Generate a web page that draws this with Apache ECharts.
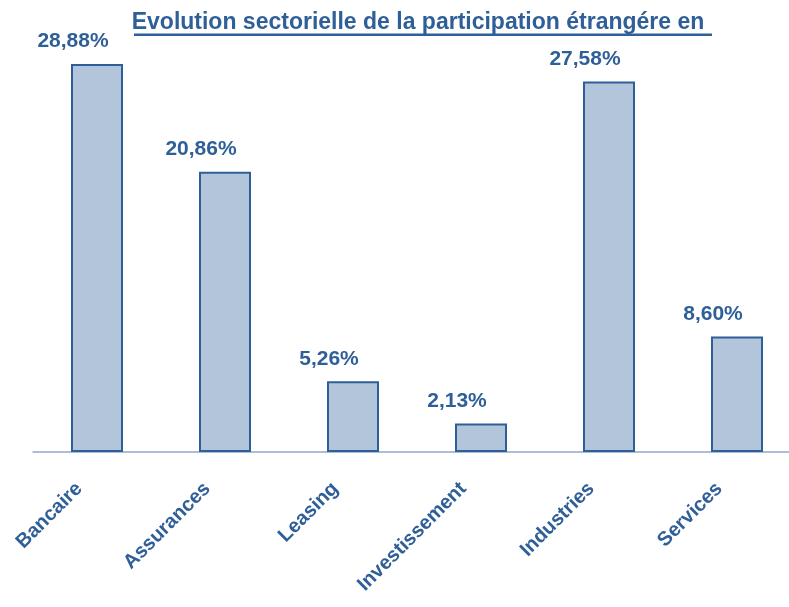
<!DOCTYPE html>
<html>
<head>
<meta charset="utf-8">
<script src="https://cdn.jsdelivr.net/npm/echarts@6/dist/echarts.min.js"></script>
<style>
  html, body { margin: 0; padding: 0; background: #fff; }
  #chart { width: 789px; height: 607px; }
</style>
</head>
<body>
<div id="chart"></div>
<script>
const categories = ['Bancaire', 'Assurances', 'Leasing', 'Investissement', 'Industries', 'Services'];
const values = [28.88, 20.86, 5.26, 2.13, 27.58, 8.60];
const titleText = 'Evolution sectorielle de la participation étrangére en';

const blue = '#2F5F98';
const font = 'Liberation Sans, Arial, sans-serif';
const chart = echarts.init(document.getElementById('chart'), null, { renderer: 'canvas' });

chart.setOption({
    backgroundColor: '#ffffff',
    animation: false,
    title: {
        text: titleText,
        left: 413,
        textAlign: 'center',
        top: 6,
        textStyle: {
            fontFamily: font,
            fontSize: 23,
            fontWeight: 'bold',
            color: blue
        }
    },
    // underline of the title
    graphic: [{
        type: 'rect',
        shape: { x: 134, y: 33.5, width: 578, height: 2.5 },
        style: { fill: blue }
    }],
    grid: {
        left: 33,
        right: -12,
        top: 49,
        bottom: 155,
        containLabel: false,
        outerBoundsMode: 'none'
    },
    xAxis: {
        type: 'category',
        data: categories,
        axisLine: { lineStyle: { color: '#8EA9C8', width: 1.5 } },
        axisTick: { show: false },
        axisLabel: {
            rotate: 45,
            margin: 16,
            interval: 0,
            padding: [0, 25, 0, 0],
            color: blue,
            fontFamily: font,
            fontSize: 20,
            fontWeight: 'bold'
        }
    },
    yAxis: {
        type: 'value',
        min: 0,
        max: 30,
        show: false,
        splitLine: { show: false }
    },
    series: [{
        type: 'bar',
        data: values,
        barWidth: 52,
        itemStyle: {
            color: '#B3C5DA',
            borderColor: blue,
            borderWidth: 2
        },
        label: {
            show: true,
            position: 'top',
            distance: 12,
            offset: [-24, 0],
            color: blue,
            fontFamily: font,
            fontSize: 21,
            fontWeight: 'bold',
            formatter: p => p.value.toFixed(2).replace('.', ',') + '%'
        }
    }]
});
</script>
</body>
</html>
